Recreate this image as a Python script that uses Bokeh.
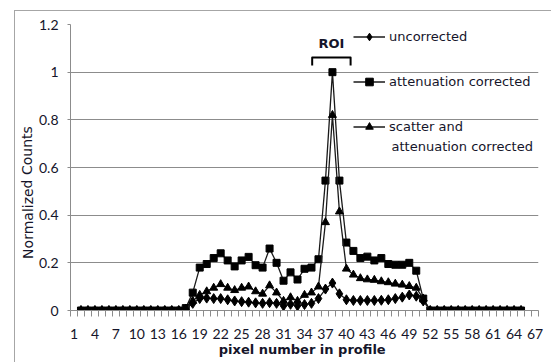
from bokeh.plotting import figure
from bokeh.models import Legend, LegendItem, Label, FixedTicker, InlineStyleSheet
from bokeh.embed import file_html
from bokeh.resources import INLINE

# ---- data ----
pixel = list(range(2, 66))

uncorrected = [0, 0, 0, 0, 0, 0, 0, 0, 0, 0, 0, 0, 0, 0, 0,
               0.005, 0.03, 0.05, 0.052, 0.05, 0.05, 0.045, 0.04, 0.037, 0.035,
               0.032, 0.03, 0.033, 0.03, 0.02, 0.026, 0.02, 0.025, 0.03, 0.05,
               0.09, 0.115, 0.07, 0.045, 0.042, 0.042, 0.042, 0.042, 0.043, 0.045,
               0.05, 0.056, 0.065, 0.06, 0.04,
               0, 0, 0, 0, 0, 0, 0, 0, 0, 0, 0, 0, 0, 0]

attenuation = [0, 0, 0, 0, 0, 0, 0, 0, 0, 0, 0, 0, 0, 0, 0,
               0.01, 0.075, 0.18, 0.195, 0.22, 0.24, 0.21, 0.185, 0.21, 0.225,
               0.19, 0.18, 0.26, 0.2, 0.125, 0.16, 0.13, 0.175, 0.18, 0.215,
               0.545, 1.0, 0.545, 0.285, 0.25, 0.22, 0.226, 0.21, 0.22, 0.195,
               0.192, 0.192, 0.2, 0.167, 0.05,
               0, 0, 0, 0, 0, 0, 0, 0, 0, 0, 0, 0, 0, 0]

scatter_att = [0, 0, 0, 0, 0, 0, 0, 0, 0, 0, 0, 0, 0, 0, 0,
               0.005, 0.04, 0.065, 0.08, 0.095, 0.11, 0.095, 0.085, 0.095, 0.1,
               0.08, 0.07, 0.105, 0.075, 0.04, 0.055, 0.04, 0.065, 0.075, 0.1,
               0.37, 0.82, 0.415, 0.175, 0.15, 0.135, 0.13, 0.128, 0.122, 0.118,
               0.112, 0.108, 0.102, 0.095, 0.05,
               0, 0, 0, 0, 0, 0, 0, 0, 0, 0, 0, 0, 0, 0]

x_ticks = [1, 4, 7, 10, 13, 16, 19, 22, 25, 28, 31, 34, 37, 40, 43, 46, 49, 52, 55, 58, 61, 64, 67]
y_ticks = [0, 0.2, 0.4, 0.6, 0.8, 1.0, 1.2]
y_tick_labels = ["0", "0.2", "0.4", "0.6", "0.8", "1", "1.2"]

roi_x = [35.1, 35.1, 40.6, 40.6]
roi_y = [1.028, 1.062, 1.062, 1.028]

TICK_FONT = "Lato"
FONT = "DejaVu Sans"
TXT = "#15152a"
GRID = "#8c8c8c"

p = figure(width=551, height=362, output_backend="svg", toolbar_location=None,
           x_range=(0.5, 67.5), y_range=(0, 1.2),
           min_border_left=70, min_border_right=13, min_border_top=24, min_border_bottom=52)
p.outline_line_color = None
p.background_fill_color = "white"
p.border_fill_color = "white"

# light chart-area border (top and left edges) as in the original
p.stylesheets = [InlineStyleSheet(css=(
    ":host::after { content: ''; position: absolute; left: 14px; top: 10px; "
    "right: 0; bottom: 0; border-left: 1px solid #a6a6a6; border-top: 1px solid #a6a6a6; "
    "pointer-events: none; }"))]

# axes
p.xgrid.grid_line_color = None
p.ygrid.grid_line_color = GRID
p.ygrid.grid_line_width = 1
p.yaxis.ticker = FixedTicker(ticks=y_ticks)
p.yaxis.major_label_overrides = {t: l for t, l in zip(y_ticks, y_tick_labels)}
p.yaxis.axis_line_color = GRID
p.yaxis.major_tick_line_color = GRID
p.yaxis.major_tick_out = 3
p.yaxis.major_tick_in = 0
p.yaxis.minor_tick_line_color = None
p.yaxis.major_label_text_font = TICK_FONT
p.yaxis.major_label_text_font_size = "14px"
p.yaxis.major_label_text_color = TXT
p.yaxis.major_label_standoff = 9

p.xaxis.ticker = FixedTicker(ticks=x_ticks,
                             minor_ticks=[i + 0.5 for i in range(0, 68)])
p.xaxis.axis_line_color = GRID
p.xaxis.major_tick_line_color = None
p.xaxis.major_tick_out = 0
p.xaxis.minor_tick_line_color = GRID
p.xaxis.minor_tick_out = 6
p.xaxis.minor_tick_in = 0
p.xaxis.major_label_text_font = TICK_FONT
p.xaxis.major_label_text_font_size = "14px"
p.xaxis.major_label_text_color = TXT
p.xaxis.major_label_standoff = 12
p.xaxis.axis_label = "pixel  number in profile"
p.xaxis.axis_label_text_font = FONT
p.xaxis.axis_label_text_font_size = "13px"
p.xaxis.axis_label_text_font_style = "bold"
p.xaxis.axis_label_text_color = TXT
p.xaxis.axis_label_standoff = 0

LC = "#1a1a1a"
r_al = p.line(pixel, attenuation, line_color=LC, line_width=1.3)
r_am = p.scatter(pixel, attenuation, marker="square", size=7, color="black")
r_sl = p.line(pixel, scatter_att, line_color=LC, line_width=1.3)
r_sm = p.scatter(pixel, scatter_att, marker="triangle", size=8, color="black")
r_ul = p.line(pixel, uncorrected, line_color=LC, line_width=1.3)
r_um = p.scatter(pixel, uncorrected, marker="diamond", size=10, color="black")

# ROI bracket
p.line(roi_x, roi_y, line_color="black", line_width=2, line_join="round")
p.add_layout(Label(x=(roi_x[0] + roi_x[2]) / 2, y=roi_y[1], text="ROI",
                   text_align="center", text_baseline="bottom", y_offset=6,
                   text_font=FONT, text_font_size="13px", text_font_style="bold",
                   text_color=TXT))

# y-axis title (placed in the left side panel, lower than centre as in the original)
p.add_layout(Label(x=8, y=0.495, x_units="screen", text="Normalized Counts", angle=1.5708,
                   text_align="center", text_baseline="middle",
                   text_font=FONT, text_font_size="14px", text_color=TXT), "left")

legend = Legend(items=[
    LegendItem(label="uncorrected", renderers=[r_ul, r_um]),
    LegendItem(label="attenuation corrected", renderers=[r_al, r_am]),
    LegendItem(label="scatter and", renderers=[r_sl, r_sm]),
], location=(283, 174))
legend.background_fill_alpha = 0
legend.border_line_alpha = 0
legend.padding = 0
legend.margin = 0
legend.glyph_width = 32
legend.glyph_height = 19
legend.label_height = 19
legend.spacing = 26
legend.label_standoff = 4
legend.label_text_font = FONT
legend.label_text_font_size = "13px"
legend.label_text_color = TXT
p.add_layout(legend, "center")

# second line of the third legend entry
p.add_layout(Label(x=46.46, y=0.688, text="attenuation corrected",
                   text_align="left", text_baseline="middle",
                   text_font=FONT, text_font_size="13px", text_color=TXT))

open("out.html", "w").write(file_html(p, INLINE))
